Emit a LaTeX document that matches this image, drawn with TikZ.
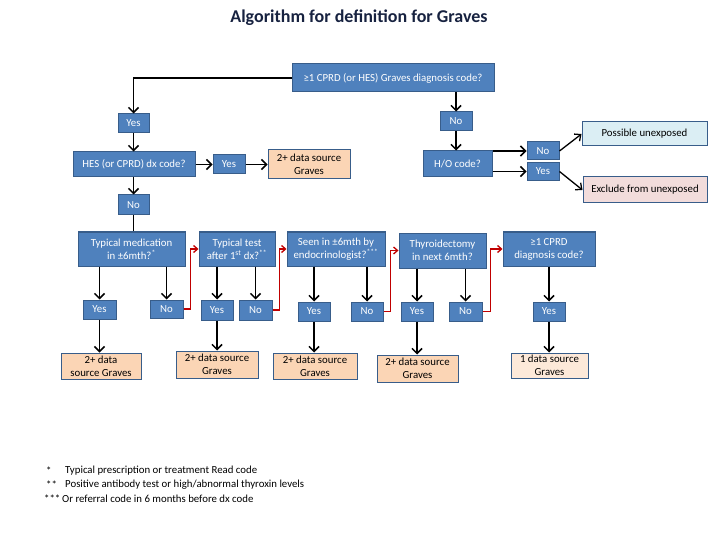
\documentclass[tikz,border=0pt]{standalone}
\usepackage{fontspec}
\setmainfont{Carlito}
\usetikzlibrary{arrows.meta}
\definecolor{qfill}{RGB}{79,129,189}
\definecolor{qbord}{RGB}{56,93,138}
\definecolor{ofill}{RGB}{251,213,181}
\definecolor{lofill}{RGB}{253,233,217}
\definecolor{bfill}{RGB}{219,238,244}
\definecolor{pfill}{RGB}{242,220,219}
\definecolor{redarr}{RGB}{192,0,0}
\definecolor{titlec}{RGB}{23,34,64}
\begin{document}
\begin{tikzpicture}[x=1pt,y=-1pt,
  qbox/.style={draw=qbord,fill=qfill,text=white,line width=1pt,inner sep=0pt,align=center,font=\fontsize{10.8}{13}\selectfont},
  obox/.style={draw=qbord,fill=ofill,text=black,line width=1pt,inner sep=0pt,align=center,font=\fontsize{10.8}{13}\selectfont},
  arr/.style={draw=black,line width=1.7pt,-{Straight Barb[length=5pt,width=10pt,line width=1.5pt]}},
  rarr/.style={draw=redarr,line width=1.6pt,-{Straight Barb[length=4pt,width=7pt,line width=1.3pt]}},
  foot/.style={anchor=west,inner sep=0pt,font=\fontsize{10.8}{13}\selectfont}]
\useasboundingbox (0,0) rectangle (720,540);
\node[font=\bfseries\fontsize{18}{21}\selectfont,text=titlec] (title) at (359,18) {Algorithm for definition for Graves};
% top part
\node[qbox,minimum width=202pt,minimum height=28pt] (top) at (393,78) {≥1 CPRD (or HES) Graves diagnosis code?};
\node[qbox,minimum width=31pt,minimum height=19pt] (yes1) at (133.5,123.5) {Yes};
\node[qbox,minimum width=122pt,minimum height=25pt] (hes) at (134,164.5) {HES (or CPRD) dx code?};
\node[qbox,minimum width=32pt,minimum height=19pt] (yes2) at (229,164.5) {Yes};
\node[obox,minimum width=82pt,minimum height=29pt] (src0) at (309,164.5) {2+ data source\\Graves};
\node[qbox,minimum width=31pt,minimum height=20pt] (no1) at (133.5,205) {No};
\node[qbox,minimum width=32pt,minimum height=19pt] (no2) at (456,121.5) {No};
\node[qbox,minimum width=69pt,minimum height=26pt] (ho) at (457.5,164) {H/O code?};
\node[qbox,minimum width=32pt,minimum height=18pt] (no3) at (543,151) {No};
\node[qbox,minimum width=32pt,minimum height=18pt] (yes3) at (543,171.5) {Yes};
\node[draw=qbord,fill=bfill,line width=1pt,minimum width=125pt,minimum height=24pt,inner sep=0pt,font=\fontsize{10.8}{13}\selectfont] (poss) at (644.5,134) {Possible unexposed};
\node[draw=qbord,fill=pfill,line width=1pt,minimum width=124pt,minimum height=26pt,inner sep=0pt,font=\fontsize{10.8}{13}\selectfont] (excl) at (645,190) {Exclude from unexposed};
% question row
\node[qbox,minimum width=107pt,minimum height=34pt] (med) at (131.5,249) {Typical medication\\in ±6mth?\textsuperscript{*}};
\node[qbox,minimum width=76pt,minimum height=34pt] (test) at (237,249) {Typical test\\after 1\textsuperscript{st} dx?\textsuperscript{**}};
\node[qbox,minimum width=98pt,minimum height=34pt] (seen) at (336,249) {Seen in ±6mth by\\endocrinologist?\textsuperscript{***}};
\node[qbox,minimum width=87pt,minimum height=35pt] (thy) at (442.5,250.5) {Thyroidectomy\\in next 6mth?};
\node[qbox,minimum width=92pt,minimum height=34pt] (cprd) at (549,249) {≥1 CPRD\\diagnosis code?};
% yes/no row
\node[qbox,minimum width=33pt,minimum height=19pt] (ymed) at (99.5,309.5) {Yes};
\node[qbox,minimum width=33pt,minimum height=18pt] (nmed) at (166.5,309) {No};
\node[qbox,minimum width=32pt,minimum height=20pt] (ytest) at (217,310) {Yes};
\node[qbox,minimum width=33pt,minimum height=20pt] (ntest) at (255.5,310) {No};
\node[qbox,minimum width=32pt,minimum height=19pt] (yseen) at (314,311.5) {Yes};
\node[qbox,minimum width=32pt,minimum height=19pt] (nseen) at (367,311.5) {No};
\node[qbox,minimum width=32pt,minimum height=19pt] (ythy) at (417,311.5) {Yes};
\node[qbox,minimum width=33pt,minimum height=19pt] (nthy) at (465.5,311.5) {No};
\node[qbox,minimum width=32pt,minimum height=19pt] (ycprd) at (549,311.5) {Yes};
% result row
\node[obox,minimum width=80pt,minimum height=26pt] (s1) at (101,366) {2+ data\\source Graves};
\node[obox,minimum width=82pt,minimum height=27pt] (s2) at (217,364.5) {2+ data source\\Graves};
\node[obox,minimum width=84pt,minimum height=26pt] (s3) at (315,366) {2+ data source\\Graves};
\node[obox,minimum width=81pt,minimum height=27pt] (s4) at (417.5,368.5) {2+ data source\\Graves};
\node[obox,fill=lofill,minimum width=77pt,minimum height=25pt] (s5) at (549.5,365.5) {1 data source\\Graves};
% connectors top
\draw[arr] (top.west) -| (yes1.north);
\draw[arr] (yes1.south) -- (hes.north -| yes1.south);
\draw[arr] (hes.east) -- (yes2.west);
\draw[arr] (yes2.east) -- (src0.west);
\draw[arr] (hes.south -| no1) -- (no1.north);
\draw[line width=1.7pt] (no1.south) -- (no1.south |- med.north);
\draw[arr] (top.south -| no2) -- (no2.north);
\draw[arr] (no2.south) -- (no2.south |- ho.north);
\draw[arr] (ho.east |- no3) -- (no3.west);
\draw[arr] (ho.east |- yes3) -- (yes3.west);
\draw[line width=1.3pt,-{Straight Barb[length=5pt,width=9pt,line width=1.3pt]}] (no3.east) -- (poss.west);
\draw[line width=1.3pt,-{Straight Barb[length=5pt,width=9pt,line width=1.3pt]}] (yes3.east) -- (excl.west);
% down arrows
\draw[arr] (med.south -| ymed) -- (ymed.north);
\draw[arr] (med.south -| nmed) -- (nmed.north);
\draw[arr] (test.south -| ytest) -- (ytest.north);
\draw[arr] (test.south -| ntest) -- (ntest.north);
\draw[arr] (seen.south -| yseen) -- (yseen.north);
\draw[arr] (seen.south -| nseen) -- (nseen.north);
\draw[arr] (thy.south -| ythy) -- (ythy.north);
\draw[arr] (thy.south -| nthy) -- (nthy.north);
\draw[arr] (cprd.south -| ycprd) -- (ycprd.north);
\draw[arr] (ymed.south) -- (s1.north -| ymed);
\draw[arr] (ytest.south) -- (s2.north -| ytest);
\draw[arr] (yseen.south) -- (s3.north -| yseen);
\draw[arr] (ythy.south) -- (s4.north -| ythy);
\draw[arr] (ycprd.south) -- (s5.north -| ycprd);
% red connectors
\draw[rarr] (nmed.east) -- ++(7,0) |- (test.west);
\draw[rarr] (ntest.east) -- ++(7,0) |- (seen.west);
\draw[rarr] (nseen.east) -- ++(7,0) |- (thy.west);
\draw[rarr] (nthy.east) -- ++(8,0) |- (cprd.west);
% footnotes
\node[foot] (f1s) at (46,471) {*};
\node[foot] (f1) at (65,471) {Typical prescription or treatment Read code};
\node[foot] (f2s) at (46,485) {**};
\node[foot] (f2) at (65,485) {Positive antibody test or high/abnormal thyroxin levels};
\node[foot] (f3s) at (44,499) {***};
\node[foot] (f3) at (62,499) {Or referral code in 6 months before dx code};
\end{tikzpicture}
\end{document}
